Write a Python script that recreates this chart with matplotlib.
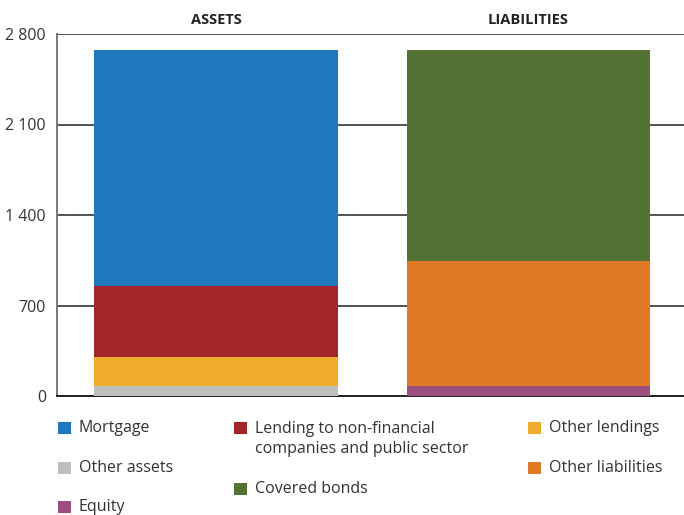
import matplotlib.pyplot as plt
import numpy as np
from matplotlib.patches import Rectangle

plt.rcParams['font.family'] = ['Open Sans', 'DejaVu Sans']

# balance sheet, stacked bottom-up
columns = ['ASSETS', 'LIABILITIES']
asset_names = ['Other assets', 'Other lendings',
               'Lending to non-financial\ncompanies and public sector', 'Mortgage']
asset_values = [77, 225, 551, 1823]
liab_names = ['Equity', 'Other liabilities', 'Covered bonds']
liab_values = [77, 967, 1632]

colors = {
    'Mortgage': '#1f77be',
    'Lending to non-financial\ncompanies and public sector': '#a2252a',
    'Other lendings': '#eeab2c',
    'Other assets': '#bebebe',
    'Covered bonds': '#537335',
    'Other liabilities': '#e17a27',
    'Equity': '#9c4f7f',
}
yticks = [0, 700, 1400, 2100, 2800]

W, H = 684, 515
fig = plt.figure(figsize=(W / 100, H / 100), dpi=100)
ax = fig.add_axes([57 / W, 1 - 396 / H, 1 - 57 / W, (396 - 34) / H])

width = 0.78
for x, names, vals in [(0, asset_names, asset_values), (1, liab_names, liab_values)]:
    bottom = 0
    for n, v in zip(names, vals):
        ax.bar(x, v, width=width, bottom=bottom, color=colors[n], zorder=3)
        bottom += v

ax.set_xlim(-0.509, 1.498)
ax.set_ylim(0, 2800)
ax.set_yticks(yticks)
ax.set_yticklabels([f'{t:,}'.replace(',', ' ') for t in yticks], fontsize=11.5, color='#333333')
ax.tick_params(axis='y', length=0, pad=8)
ax.set_xticks([])
ax.grid(axis='y', color='#222222', linewidth=1.1, zorder=0)
for s in ['top', 'right']:
    ax.spines[s].set_visible(False)
ax.spines['left'].set_color('#777777')
ax.spines['left'].set_linewidth(1.4)
ax.spines['bottom'].set_color('#222222')
ax.spines['bottom'].set_linewidth(1.4)

for x, label in enumerate(columns):
    ax.text(x, 1.04, label, transform=ax.get_xaxis_transform(), ha='center', va='center',
            fontsize=10.5, fontweight='bold', color='#222222')

# legend laid out in three columns
legend_items = [
    ('Mortgage', 58, 428),
    ('Other assets', 58, 467.5),
    ('Equity', 58, 506.5),
    ('Lending to non-financial\ncompanies and public sector', 234, 428),
    ('Covered bonds', 234, 488.5),
    ('Other lendings', 528, 428),
    ('Other liabilities', 528, 467.5),
]
for name, px, py in legend_items:
    fig.add_artist(Rectangle((px / W, 1 - (py + 6) / H), 12.5 / W, 12 / H,
                             transform=fig.transFigure, color=colors[name], lw=0))
    ty = py + 10.5 if '\n' in name else py
    fig.text((px + 21) / W, 1 - (ty + 0.5) / H, name, ha='left', va='center',
             fontsize=11.5, color='#333333', linespacing=1.3)

fig.savefig('out.png', dpi=100)
